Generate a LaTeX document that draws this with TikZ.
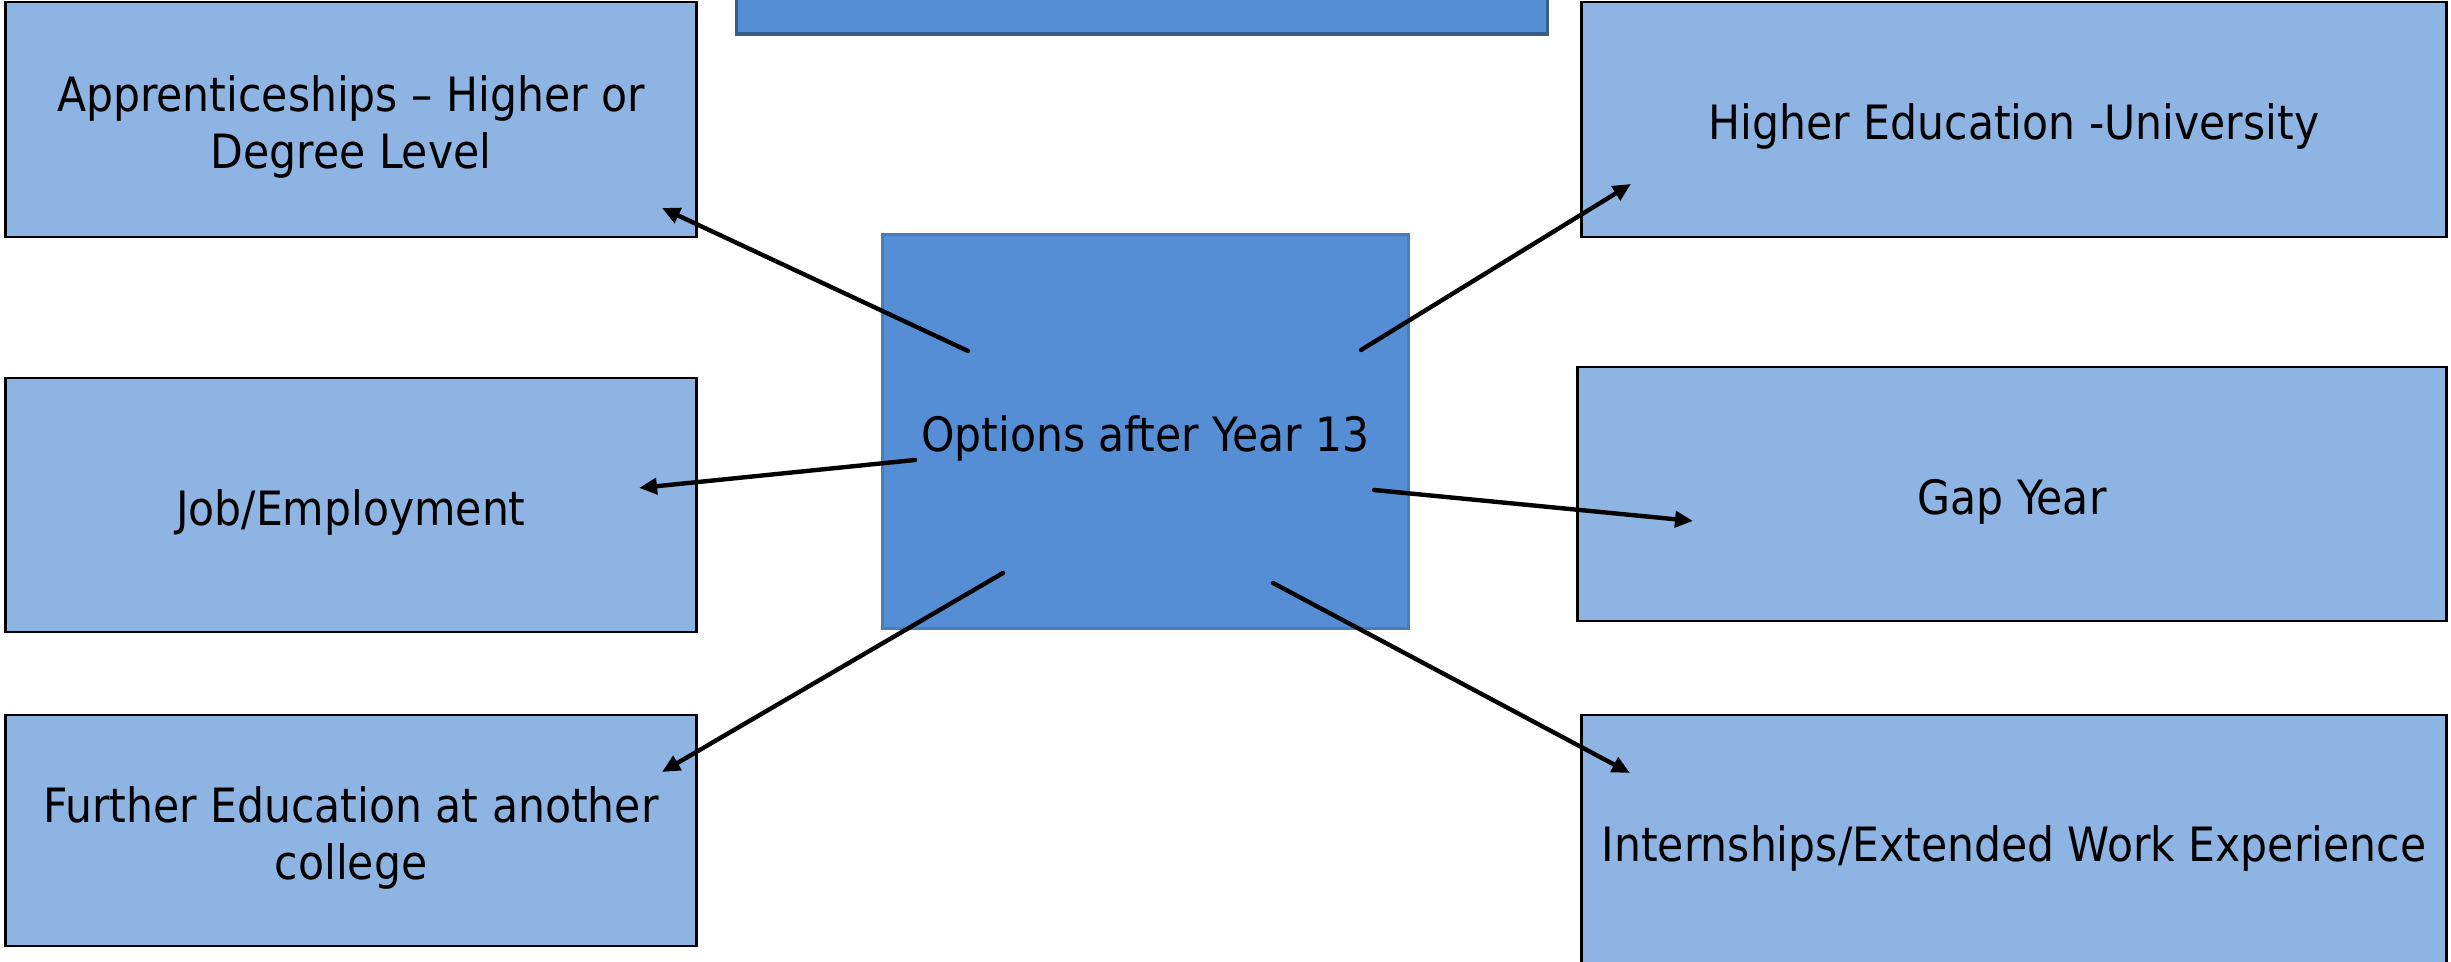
\documentclass[tikz,border=0pt]{standalone}
\usepackage{fontspec}
\setmainfont{DejaVu Sans Condensed}
\usetikzlibrary{arrows.meta}
\definecolor{lightbox}{RGB}{142,180,227}
\definecolor{midbox}{RGB}{85,142,213}
\definecolor{midedge}{RGB}{74,126,187}
\definecolor{topedge}{RGB}{56,93,138}
\newcommand\tstrut{\rule{0pt}{14.4pt}}
\tikzset{
  optbox/.style={draw=black, line width=0.75pt, fill=lightbox, inner sep=0pt,
    align=center, font=\fontsize{13.45}{16.2}\selectfont},
  centrebox/.style={draw=midedge, line width=0.85pt, fill=midbox, inner sep=0pt,
    align=center, font=\fontsize{13.45}{16.2}\selectfont},
  topbox/.style={draw=topedge, line width=0.95pt, fill=midbox, inner sep=0pt},
  arr/.style={line width=1.25pt, line cap=round, -{Triangle[length=0.18cm,width=0.16cm]}}
}
\begin{document}
\begin{tikzpicture}[x=0.01cm, y=-0.01cm]
\useasboundingbox (0,0) rectangle (2451,962);
% boxes
\node[optbox, minimum width=6.90cm, minimum height=2.35cm] (appr) at (351,119.5)
  {\tstrut Apprenticeships – Higher or\\Degree Level};
\node[topbox, minimum width=8.10cm, minimum height=0.84cm] (top) at (1142,-8) {};
\node[optbox, minimum width=8.64cm, minimum height=2.35cm] (he) at (2014,119.5)
  {\tstrut Higher Education -University};
\node[centrebox, minimum width=5.25cm, minimum height=3.93cm] (centre) at (1145.5,431.5)
  {\tstrut Options after Year 13};
\node[optbox, minimum width=6.90cm, minimum height=2.54cm] (job) at (351,505)
  {\tstrut Job/Employment};
\node[optbox, minimum width=8.68cm, minimum height=2.54cm] (gap) at (2012,494)
  {\tstrut Gap Year};
\node[optbox, minimum width=6.90cm, minimum height=2.31cm] (fe) at (351,830.5)
  {\tstrut Further Education at another\\college};
\node[optbox, minimum width=8.64cm, minimum height=2.53cm] (intern) at (2014,841.5)
  {\tstrut Internships/Extended Work Experience};
% connector end points
\coordinate (s1) at (968,351);  \coordinate (e1) at (662,208);
\coordinate (s2) at (1361,350); \coordinate (e2) at (1631,184);
\coordinate (s3) at (915,460);  \coordinate (e3) at (639,488);
\coordinate (s4) at (1374,490); \coordinate (e4) at (1693,521);
\coordinate (s5) at (1003,573); \coordinate (e5) at (662,772);
\coordinate (s6) at (1273,583); \coordinate (e6) at (1630,773);
\draw[arr] (s1) -- (e1);
\draw[arr] (s2) -- (e2);
\draw[arr] (s3) -- (e3);
\draw[arr] (s4) -- (e4);
\draw[arr] (s5) -- (e5);
\draw[arr] (s6) -- (e6);
\end{tikzpicture}
\end{document}
